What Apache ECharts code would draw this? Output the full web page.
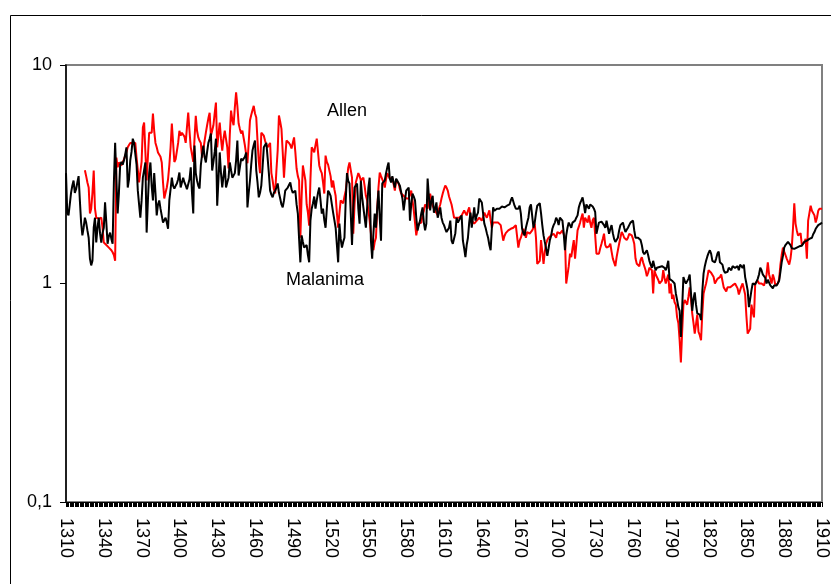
<!DOCTYPE html>
<html>
<head>
<meta charset="utf-8">
<title>Allen / Malanima</title>
<script src="https://cdn.jsdelivr.net/npm/echarts@6/dist/echarts.min.js"></script>
<style>
	html, body { margin: 0; padding: 0; background: #fff; }
	#chart { width: 831px; height: 584px; }
</style>
</head>
<body>
<div id="chart"></div>
<script type="text/javascript">
	// 年份 1310 - 1910
	var firstYear = 1310;
	var lastYear = 1910;
	var years = [];
	for (var y = firstYear; y <= lastYear; y++) years.push(String(y));

	var yTicks = [0.1, 1, 10];

	// Allen (red), one row per decade
	var allen = [
		null, null, null, null, null, null, null, null, null, null,
		null, null, null, null, null, 3.3, 3.1, 2.9, 2.75, 2.09,
		2.2, 2.6, 3.29, 2.2, 2.0, 1.98, 1.98, 2.0, 2.0, 1.8,
		1.54, 1.52, 1.5, 1.48, 1.46, 1.45, 1.42, 1.39, 1.35, 1.27,
		3.77, 3.4, 3.58, 3.6, 3.47, 3.6, 3.7, 3.77, 4.0, 4.2,
		4.3, 4.4, 4.4, 4.4, 4.4, 4.4, 3.77, 3.3, 2.9, 2.87,
		3.6, 5.18, 5.45, 4.0, 2.96, 3.8, 4.9, 4.8, 4.9, 6.0,
		5.0, 4.4, 4.2, 3.98, 3.9, 3.8, 3.58, 2.9, 2.45, 2.6,
		2.75, 3.0, 3.47, 4.2, 5.4, 4.4, 3.6, 3.7, 3.77, 4.4,
		5.0, 4.75, 4.9, 5.0, 4.7, 4.4, 5.2, 6.05, 5.0, 4.2,
		3.9, 3.6, 4.6, 5.85, 5.0, 4.66, 4.5, 4.4, 3.77, 4.1,
		4.5, 4.9, 5.3, 5.7, 6.05, 4.75, 5.0, 5.3, 6.0, 6.73,
		4.2, 4.8, 5.45, 4.6, 4.06, 4.6, 5.0, 5.0, 4.2, 3.36,
		4.8, 6.19, 5.6, 5.3, 6.4, 7.5, 6.5, 5.4, 5.1, 4.86,
		5.0, 5.1, 4.28, 3.9, 3.55, 4.4, 5.57, 5.9, 6.2, 6.5,
		6.0, 5.75, 4.5, 3.6, 3.2, 4.9, 4.8, 4.75, 4.5, 4.3,
		4.2, 4.3, 4.4, 3.2, 2.96, 2.7, 2.58, 3.3, 4.06, 5.87,
		5.5, 5.1, 4.0, 3.05, 3.8, 4.51, 4.45, 4.4, 4.3, 4.15,
		4.4, 4.66, 4.0, 3.36, 3.1, 2.96, 1.62, 2.5, 3.47, 3.2,
		2.96, 2.3, 2.11, 1.84, 3.0, 4.2, 4.1, 3.98, 4.3, 4.6,
		4.0, 3.47, 3.3, 3.2, 2.9, 2.58, 3.85, 3.6, 3.5, 3.47,
		3.1, 2.75, 2.96, 2.7, 2.52, 2.1, 1.8, 2.1, 2.4, 2.35,
		2.33, 2.5, 2.66, 3.0, 3.39, 3.58, 3.3, 3.05, 1.69, 2.3,
		2.9, 3.05, 3.2, 3.1, 2.96, 3.0, 3.05, 2.8, 2.52, 2.4,
		2.4, 1.94, 1.7, 1.5, 1.42, 1.55, 1.62, 2.2, 2.75, 3.22,
		3.1, 3.05, 2.9, 2.75, 3.0, 3.2, 3.1, 3.02, 3.04, 3.05,
		2.85, 2.66, 2.96, 2.9, 2.87, 2.7, 2.58, 2.55, 2.52, 2.48,
		2.45, 2.45, 2.45, 2.55, 2.66, 2.4, 2.16, 1.9, 1.66, 1.8,
		1.88, 1.9, 1.9, 2.05, 2.15, 2.3, 2.25, 2.2, 2.4, 2.58,
		2.4, 2.27, 2.2, 2.16, 2.1, 2.05, 2.2, 2.3, 2.45, 2.58,
		2.7, 2.81, 2.75, 2.66, 2.5, 2.45, 2.3, 2.15, 2.0, 2.0,
		2.0, 2.0, 2.0, 2.02, 2.05, 2.1, 2.16, 2.1, 2.05, 2.15,
		2.23, 2.05, 1.94, 1.9, 1.88, 1.9, 1.94, 1.97, 2.0, 1.97,
		1.94, 2.02, 2.11, 2.05, 2.0, 2.08, 2.16, 1.95, 1.8, 1.9,
		1.9, 1.9, 1.9, 1.9, 1.88, 1.85, 1.85, 1.57, 1.65, 1.7,
		1.72, 1.75, 1.76, 1.78, 1.78, 1.8, 1.82, 1.85, 1.88, 1.46,
		1.57, 1.62, 1.7, 1.78, 1.7, 1.62, 1.72, 1.7, 1.69, 1.72,
		1.75, 1.8, 1.88, 1.62, 1.23, 1.25, 1.27, 1.58, 1.4, 1.23,
		1.4, 1.52, 1.58, 1.62, 1.64, 1.66, 1.68, 1.69, 1.66, 1.62,
		1.72, 1.7, 1.69, 1.72, 1.75, 1.68, 1.62, 1.0, 1.0, 1.2,
		1.37, 1.32, 1.45, 1.58, 1.3, 1.5, 1.75, 1.82, 1.9, 2.0,
		2.09, 1.8, 2.0, 1.95, 1.9, 2.05, 1.9, 1.8, 1.95, 2.0,
		2.0, 1.37, 1.37, 1.37, 1.45, 1.52, 1.6, 1.69, 1.5, 1.46,
		1.46, 1.48, 1.52, 1.4, 1.3, 1.25, 1.2, 1.32, 1.42, 1.52,
		1.62, 1.72, 1.68, 1.62, 1.6, 1.58, 1.62, 1.69, 1.68, 1.66,
		1.6, 1.52, 1.3, 1.23, 1.21, 1.2, 1.28, 1.32, 1.25, 1.2,
		1.15, 1.08, 1.12, 1.18, 1.16, 1.15, 0.9, 1.15, 1.1, 1.08,
		1.04, 1.0, 1.02, 1.03, 1.15, 1.06, 1.0, 1.05, 1.1, 0.9,
		1.0, 0.85, 0.89, 0.82, 0.8, 0.7, 0.66, 0.55, 0.435, 0.6,
		0.8, 0.84, 0.82, 0.8, 0.87, 0.96, 0.85, 0.73, 0.66, 0.59,
		0.65, 0.72, 0.6, 0.58, 0.55, 0.73, 0.9, 0.95, 1.0, 1.07,
		1.15, 1.13, 1.12, 1.1, 1.07, 1.0, 1.02, 1.05, 1.06, 1.07,
		1.1, 1.12, 0.96, 0.94, 0.92, 0.96, 0.96, 0.96, 0.97, 0.98,
		1.0, 1.0, 1.0, 0.95, 0.89, 0.93, 0.97, 1.0, 0.98, 0.89,
		0.71, 0.59, 0.6, 0.62, 0.8, 0.74, 0.7, 1.0, 1.02, 1.03,
		1.0, 0.98, 1.0, 1.01, 0.98, 0.96, 1.1, 1.25, 1.1, 1.05,
		1.0, 1.1, 1.05, 0.98, 0.98, 1.0, 1.05, 1.22, 1.35, 1.46,
		1.4, 1.35, 1.3, 1.26, 1.22, 1.3, 1.46, 1.8, 2.33, 1.88,
		1.75, 1.66, 1.68, 1.7, 1.5, 1.52, 1.55, 1.6, 1.3, 1.94,
		2.1, 2.27, 2.15, 2.1, 2.05, 1.9, 2.0, 2.15, 2.2, 2.2,
		2.2
	];

	// Malanima (black), one row per decade
	var malanima = [
		3.2, 2.1, 2.05, 2.3, 2.6, 2.8, 2.96, 2.6, 2.7, 2.9,
		3.1, 2.4, 1.9, 1.66, 1.8, 2.0, 1.9, 1.75, 1.62, 1.3,
		1.21, 1.27, 1.8, 2.0, 1.54, 1.8, 2.0, 1.7, 1.54, 1.7,
		1.8, 2.35, 1.9, 1.52, 1.65, 1.71, 1.6, 1.52, 2.9, 4.4,
		3.0, 2.09, 2.6, 3.5, 3.6, 3.5, 3.66, 3.9, 4.2, 2.75,
		3.0, 3.66, 4.0, 4.6, 4.4, 4.35, 3.5, 2.66, 2.3, 2.0,
		2.4, 3.05, 3.3, 3.58, 1.71, 2.4, 3.2, 3.58, 2.8, 2.4,
		3.2, 2.6, 2.05, 2.3, 2.4, 2.2, 2.2, 1.9, 1.88, 2.0,
		1.9, 1.78, 2.4, 2.7, 3.05, 2.8, 2.72, 2.8, 2.87, 3.0,
		3.22, 2.75, 2.9, 3.05, 2.9, 2.81, 2.7, 2.66, 3.0, 3.4,
		2.6, 2.09, 4.28, 3.2, 2.96, 2.8, 2.72, 3.47, 3.9, 4.28,
		3.8, 3.58, 4.0, 4.4, 4.6, 4.86, 3.29, 3.6, 4.0, 4.6,
		2.27, 3.0, 3.98, 3.2, 2.75, 3.1, 3.47, 2.75, 2.9, 3.05,
		3.58, 3.3, 3.05, 3.1, 3.2, 3.66, 4.51, 3.12, 3.4, 3.73,
		3.65, 3.58, 3.8, 3.98, 2.23, 2.6, 2.96, 3.5, 4.06, 4.3,
		4.51, 3.29, 2.9, 2.48, 2.6, 2.81, 3.4, 4.2, 4.3, 4.4,
		3.77, 3.2, 2.66, 2.55, 2.48, 2.6, 2.66, 2.75, 2.87, 2.6,
		2.45, 2.3, 2.23, 2.4, 2.66, 2.7, 2.75, 2.8, 2.9, 2.7,
		2.6, 2.63, 2.66, 2.3, 2.09, 1.6, 1.25, 1.66, 1.55, 1.46,
		1.48, 1.5, 1.35, 1.25, 1.94, 2.2, 2.33, 2.5, 2.2, 2.4,
		2.6, 2.75, 2.4, 2.09, 2.2, 1.95, 1.8, 2.2, 2.66, 2.6,
		2.52, 2.3, 2.11, 1.95, 1.8, 1.5, 1.25, 1.88, 1.6, 1.46,
		1.55, 1.62, 2.4, 3.2, 2.95, 2.87, 2.09, 1.5, 2.2, 2.75,
		2.8, 2.87, 2.2, 1.88, 2.96, 2.5, 2.23, 2.0, 1.8, 2.23,
		2.75, 3.05, 1.57, 1.3, 1.7, 2.09, 1.8, 2.2, 2.66, 2.0,
		1.57, 2.87, 2.9, 2.96, 3.2, 3.4, 3.58, 3.02, 2.9, 3.1,
		2.9, 2.75, 3.02, 2.95, 2.9, 2.8, 2.75, 2.45, 2.16, 2.4,
		2.66, 2.7, 2.75, 1.94, 2.3, 2.58, 2.5, 2.4, 2.0, 1.75,
		1.85, 1.94, 2.1, 2.23, 1.9, 1.75, 1.88, 3.02, 2.5, 2.16,
		2.4, 2.52, 2.11, 2.2, 2.35, 2.0, 2.1, 2.23, 2.0, 1.9,
		1.85, 1.78, 1.72, 1.69, 1.8, 1.94, 1.57, 1.52, 1.49, 1.7,
		2.0, 1.9, 1.88, 2.0, 2.05, 1.57, 1.45, 1.32, 1.5, 1.62,
		1.9, 2.11, 1.8, 2.0, 2.23, 1.94, 2.05, 2.11, 2.45, 2.4,
		2.35, 2.1, 1.88, 1.8, 1.7, 1.62, 1.5, 1.42, 1.8, 2.23,
		2.15, 2.11, 2.2, 2.23, 2.2, 2.2, 2.25, 2.27, 2.23, 2.25,
		2.27, 2.28, 2.3, 2.4, 2.48, 2.45, 2.27, 2.2, 2.16, 2.2,
		2.27, 2.09, 1.78, 1.7, 1.66, 1.8, 1.9, 2.0, 2.23, 2.3,
		2.33, 1.8, 1.9, 2.1, 2.27, 2.3, 2.33, 2.1, 1.85, 1.66,
		1.55, 1.45, 1.34, 1.45, 1.58, 1.65, 1.78, 1.85, 1.9, 2.0,
		1.95, 1.85, 2.0, 1.97, 1.94, 1.7, 1.42, 1.66, 1.8, 1.9,
		1.85, 1.8, 1.9, 1.92, 1.94, 2.0, 2.05, 2.23, 2.33, 2.4,
		2.48, 2.3, 2.1, 2.3, 2.25, 2.2, 2.3, 2.28, 2.25, 2.2,
		2.12, 1.69, 1.8, 1.9, 1.94, 1.92, 1.9, 1.85, 1.8, 1.94,
		1.94, 1.69, 1.78, 1.85, 1.7, 1.6, 1.55, 1.58, 1.62, 1.75,
		1.85, 1.88, 1.9, 1.8, 1.72, 1.76, 1.8, 1.85, 1.9, 1.92,
		1.94, 1.75, 1.62, 1.62, 1.62, 1.6, 1.58, 1.5, 1.39, 1.36,
		1.34, 1.42, 1.35, 1.27, 1.22, 1.18, 1.27, 1.2, 1.15, 1.18,
		1.2, 1.19, 1.18, 1.2, 1.22, 1.18, 1.15, 1.2, 1.27, 1.05,
		1.03, 1.03, 1.02, 1.0, 0.9, 0.84, 0.78, 0.75, 0.57, 0.77,
		1.07, 1.03, 1.0, 1.0, 1.05, 1.1, 1.12, 0.75, 0.85, 0.91,
		0.8, 0.73, 0.72, 0.72, 0.68, 0.92, 1.11, 1.2, 1.27, 1.33,
		1.38, 1.42, 1.37, 1.27, 1.26, 1.25, 1.3, 1.37, 1.4, 1.25,
		1.25, 1.22, 1.15, 1.12, 1.11, 1.13, 1.18, 1.16, 1.15, 1.2,
		1.22, 1.18, 1.2, 1.2, 1.15, 1.22, 1.2, 1.18, 1.22, 1.07,
		1.0, 0.93, 0.78, 0.85, 0.93, 1.0, 0.98, 0.99, 1.0, 1.05,
		1.1, 1.18, 1.15, 1.1, 1.12, 1.06, 1.0, 1.04, 1.05, 0.98,
		0.96, 0.95, 0.98, 1.0, 0.98, 1.0, 1.03, 1.13, 1.25, 1.34,
		1.46, 1.5, 1.52, 1.55, 1.57, 1.5, 1.45, 1.42, 1.44, 1.46,
		1.46, 1.46, 1.48, 1.5, 1.49, 1.48, 1.55, 1.57, 1.57, 1.58,
		1.6, 1.61, 1.62, 1.68, 1.72, 1.78, 1.8, 1.85, 1.87, 1.88,
		1.9
	];

	var font = "'Liberation Sans', Arial, sans-serif";

	var chart = echarts.init(document.getElementById('chart'), null, { renderer: 'canvas' });

	chart.setOption({
		animation: false,
		backgroundColor: '#fff',
		textStyle: { fontFamily: font, color: '#000' },
		grid: {
			left: 66, right: 5, top: 65, bottom: 82,
			show: true, borderColor: '#808080', borderWidth: 2, backgroundColor: 'transparent'
		},
		xAxis: {
			type: 'category',
			data: years,
			boundaryGap: false,
			axisLine: { lineStyle: { color: '#000', width: 1 } },
			axisTick: { show: true, interval: 0, length: 5, lineStyle: { color: '#000', width: 1 } },
			axisLabel: {
				interval: 29, rotate: -90, margin: 16,
				fontSize: 18, fontFamily: font, color: '#000'
			},
			splitLine: { show: false }
		},
		yAxis: {
			type: 'log',
			logBase: 10,
			min: yTicks[0],
			max: yTicks[yTicks.length - 1],
			axisLine: { show: true, lineStyle: { color: '#000', width: 1.5 } },
			axisTick: { show: true, length: 6, inside: false, lineStyle: { color: '#000' } },
			axisLabel: {
				margin: 14, fontSize: 18, fontFamily: font, color: '#000',
				formatter: function (v) { return String(v).replace('.', ','); }
			},
			splitLine: { show: false }
		},
		series: [
			{
				name: 'Allen', type: 'line', data: allen,
				showSymbol: false, connectNulls: false,
				lineStyle: { color: '#ff0000', width: 2 }, itemStyle: { color: '#ff0000' }, z: 2
			},
			{
				name: 'Malanima', type: 'line', data: malanima,
				showSymbol: false,
				lineStyle: { color: '#000000', width: 2 }, itemStyle: { color: '#000000' }, z: 3
			}
		],
		graphic: [
			{
				type: 'rect', silent: true, z: 100,
				shape: { x: 10.5, y: 15.5, width: 840, height: 600 },
				style: { fill: null, stroke: '#000', lineWidth: 1 }
			},
			{
				type: 'text', left: 327, top: 102, z: 100,
				style: { text: 'Allen', font: '18px ' + font, fill: '#000' }
			},
			{
				type: 'text', left: 286, top: 271, z: 100,
				style: { text: 'Malanima', font: '18px ' + font, fill: '#000' }
			}
		]
	});
</script>
</body>
</html>
